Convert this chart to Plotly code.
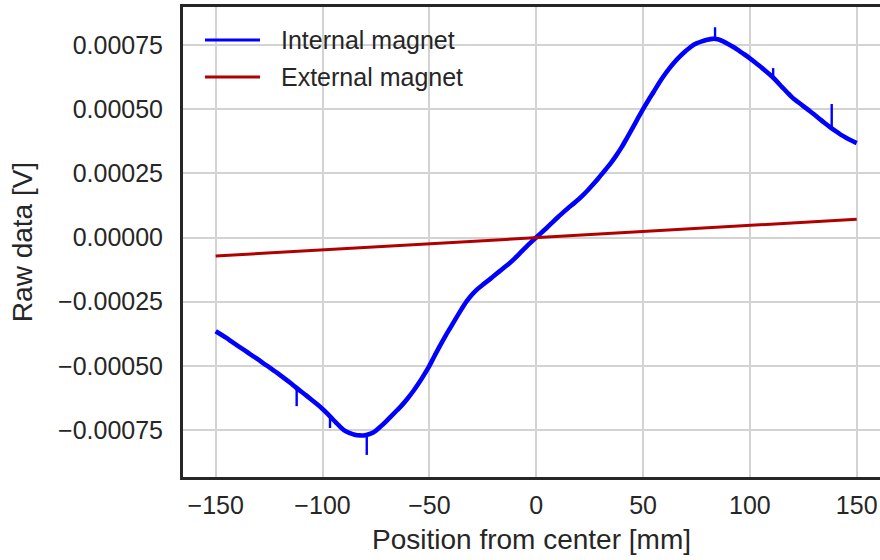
import plotly.graph_objects as go

# Sensor scan: raw voltage versus probe position
position_mm = [-150 + 2.5 * i for i in range(121)]
internal_v = [
    -0.000365, -0.000378, -0.000391, -0.000406, -0.000420, -0.000434, -0.000448, -0.000462,
    -0.000476, -0.000491, -0.000505, -0.000520, -0.000535, -0.000551, -0.000567, -0.000584,
    -0.000600, -0.000616, -0.000633, -0.000650, -0.000668, -0.000688, -0.000710, -0.000731,
    -0.000750, -0.000761, -0.000768, -0.000771, -0.000770, -0.000764, -0.000752, -0.000734,
    -0.000714, -0.000693, -0.000672, -0.000650, -0.000625, -0.000598, -0.000568, -0.000535,
    -0.000500, -0.000460, -0.000421, -0.000384, -0.000349, -0.000314, -0.000280, -0.000248,
    -0.000222, -0.000201, -0.000184, -0.000168, -0.000151, -0.000134, -0.000117, -0.000100,
    -0.000081, -0.000060, -0.000039, -0.000019, 0.000000, 0.000019, 0.000038, 0.000058,
    0.000078, 0.000097, 0.000115, 0.000132, 0.000150, 0.000170, 0.000192, 0.000215,
    0.000240, 0.000265, 0.000291, 0.000320, 0.000352, 0.000388, 0.000425, 0.000463,
    0.000500, 0.000535, 0.000568, 0.000602, 0.000633, 0.000661, 0.000686, 0.000708,
    0.000727, 0.000744, 0.000756, 0.000764, 0.000770, 0.000774, 0.000772, 0.000764,
    0.000753, 0.000741, 0.000727, 0.000713, 0.000698, 0.000682, 0.000665, 0.000648,
    0.000630, 0.000609, 0.000587, 0.000565, 0.000544, 0.000528, 0.000512, 0.000496,
    0.000480, 0.000463, 0.000446, 0.000430, 0.000415, 0.000401, 0.000389, 0.000378,
    0.000368,
]

# Short glitches in the internal-magnet trace
glitch_mm = [-112.1, -96.5, -79.3, 83.7, 110.9, 138.3]
glitch_base_v = [-0.000588, -0.000695, -0.000768, 0.000775, 0.000625, 0.000424]
glitch_tip_v = [-0.000657, -0.000742, -0.000847, 0.000819, 0.000660, 0.000520]

external_mm = [-150, -100, -50, 0, 50, 100, 150]
external_v = [-0.000072, -0.000048, -0.000024, 0.0, 0.000024, 0.000047, 0.000071]

x_ticks = [-150, -100, -50, 0, 50, 100, 150]
y_ticks = [-0.00075, -0.0005, -0.00025, 0.0, 0.00025, 0.0005, 0.00075]

BLUE = "#0000ff"
RED = "#b00000"
INK = "#262626"
FONT = "Liberation Sans, Arial, sans-serif"

W, H = 880, 560
L, T, B = 183, 7, 83
PW, PH = W - L, H - T - B

glitch_x, glitch_y = [], []
for gx, gb, gt in zip(glitch_mm, glitch_base_v, glitch_tip_v):
    glitch_x += [gx, gx, None]
    glitch_y += [gb, gt, None]

fig = go.Figure()
fig.add_trace(go.Scatter(x=position_mm, y=internal_v, mode="lines", name="Internal magnet",
                         line=dict(color=BLUE, width=4.6, shape="spline", smoothing=0.8),
                         showlegend=False))
fig.add_trace(go.Scatter(x=glitch_x, y=glitch_y, mode="lines", name="Internal magnet",
                         line=dict(color=BLUE, width=2.4), showlegend=False))
fig.add_trace(go.Scatter(x=external_mm, y=external_v, mode="lines", name="External magnet",
                         line=dict(color=RED, width=3), showlegend=False))


def px_x(p):
    return (p - L) / PW


def px_y(p):
    return (H - B - p) / PH


# Legend drawn in the upper-left corner
legend_rows = [("Internal magnet", BLUE, 40), ("External magnet", RED, 77)]
for label, color, yy in legend_rows:
    fig.add_shape(type="line", xref="paper", yref="paper",
                  x0=px_x(205), x1=px_x(260), y0=px_y(yy), y1=px_y(yy),
                  line=dict(color=color, width=3))
    fig.add_annotation(xref="paper", yref="paper", x=px_x(279), y=px_y(yy),
                       text=label, showarrow=False, xanchor="left", yanchor="middle",
                       font=dict(size=25, color=INK, family=FONT))

axis_common = dict(
    showgrid=True, gridcolor="#d3d3d3", gridwidth=1.8,
    zeroline=False, showline=True, linecolor="#262626", linewidth=3,
    ticks="outside", tickcolor="rgba(0,0,0,0)",
    tickfont=dict(size=25, color=INK, family=FONT),
)

fig.update_layout(
    width=W, height=H,
    margin=dict(l=L, r=0, t=T, b=B),
    plot_bgcolor="white", paper_bgcolor="white",
    font=dict(family=FONT, color=INK),
    xaxis=dict(range=[-165.3, 160.9], tickvals=x_ticks, mirror=True, ticklen=4,
               title=dict(text="Position from center [mm]", font=dict(size=28, color=INK),
                          standoff=12),
               **axis_common),
    yaxis=dict(range=[-0.000933, 0.000898], tickvals=y_ticks, tickformat=".5f",
               mirror=False, ticklen=12,
               title=dict(text="Raw data [V]", font=dict(size=28, color=INK), standoff=18),
               **axis_common),
)

fig.write_html("out.html")
